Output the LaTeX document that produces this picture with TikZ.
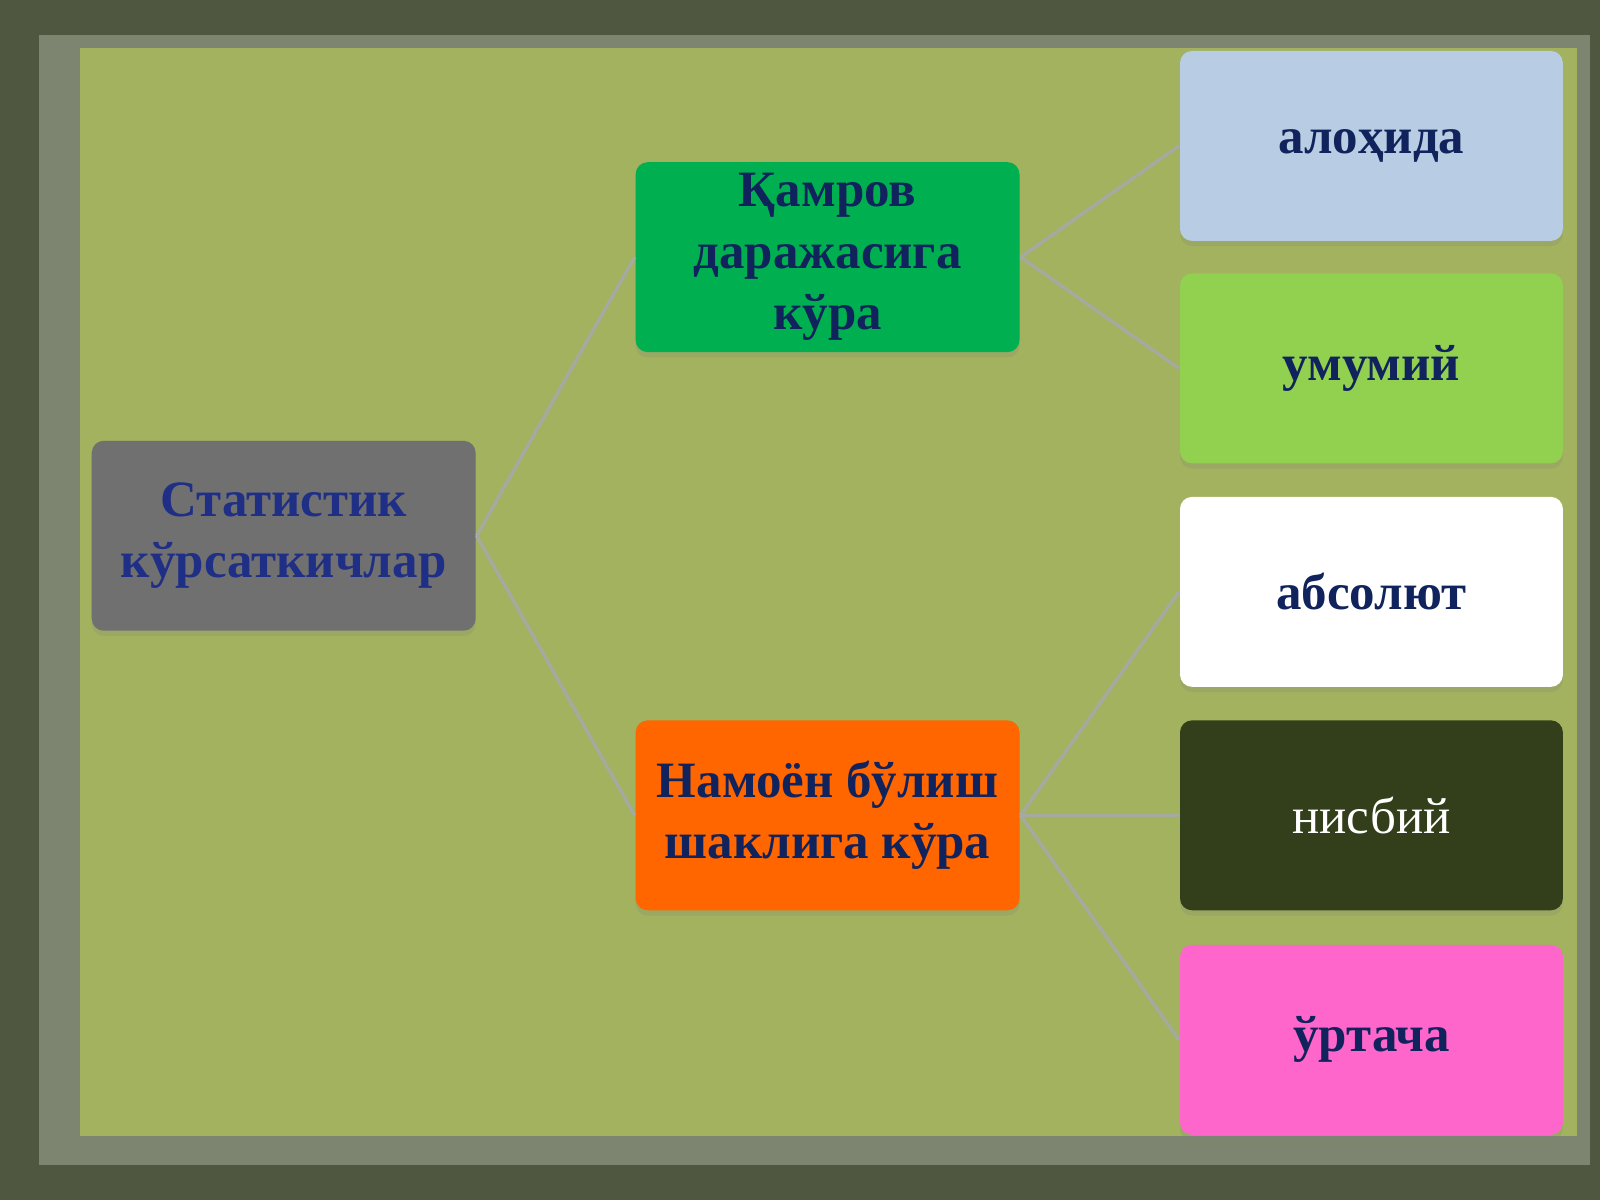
\documentclass[tikz,border=0pt]{standalone}
\usepackage{fontspec}
\setmainfont{Liberation Serif}
\usetikzlibrary{shadows}
\definecolor{framedark}{HTML}{4F5741}
\definecolor{rimgray}{HTML}{7D8570}
\definecolor{panelgreen}{HTML}{A2B25E}
\definecolor{navytext}{HTML}{10235C}
\definecolor{stattext}{HTML}{1F2F86}
\definecolor{linkgray}{HTML}{A4AB9E}
\definecolor{statgray}{HTML}{707070}
\definecolor{qamgreen}{HTML}{00B050}
\definecolor{namorange}{HTML}{FF6600}
\definecolor{aloblue}{HTML}{B8CCE4}
\definecolor{umugreen}{HTML}{92D050}
\definecolor{nisolive}{HTML}{333F1B}
\definecolor{urtpink}{HTML}{FF66CC}
\begin{document}
\begin{tikzpicture}[x=0.010204cm,y=-0.010204cm,semithick,
  box/.style={rounded corners=0.12cm,minimum width=3.84cm,minimum height=1.9cm,
    inner sep=2pt,align=center,text=navytext,
    drop shadow={opacity=0.2,shadow xshift=0pt,shadow yshift=-1.5pt},
    font=\bfseries\fontsize{14.5}{17.5}\selectfont},
  leaf/.style={box,minimum width=3.83cm},
  link/.style={draw=linkgray,line width=1pt}]
\useasboundingbox (0,0) rectangle (1568,1176);
% background
\fill[framedark] (0,0) rectangle (1568,1176);
\fill[rimgray] (38,34) rectangle (1558,1142);
\fill[panelgreen] (78,47) rectangle (1545,1113);
% boxes
\node[box,fill=statgray,text=stattext] (stat) at (278,525) {Статистик\\кўрсаткичлар};
\node[box,fill=qamgreen] (qam) at (811,252) {Қамров\\даражасига\\кўра};
\node[box,fill=namorange] (nam) at (811,799) {Намоён бўлиш\\шаклига кўра};
\node[leaf,fill=aloblue] (alo) at (1344,143) {алоҳида};
\node[leaf,fill=umugreen] (umu) at (1344,361) {умумий};
\node[leaf,fill=white] (abs) at (1344,580) {абсолют};
\node[leaf,fill=nisolive,text=white,font=\fontsize{14.5}{17.5}\selectfont] (nis) at (1344,799) {нисбий};
\node[leaf,fill=urtpink] (urt) at (1344,1019) {ўртача};
% links
\draw[link] (stat.east)--(qam.west)(stat.east)--(nam.west);
\draw[link] (qam.east)--(alo.west)(qam.east)--(umu.west);
\draw[link] (nam.east)--(abs.west)(nam.east)--(nis.west)(nam.east)--(urt.west);
\end{tikzpicture}
\end{document}
